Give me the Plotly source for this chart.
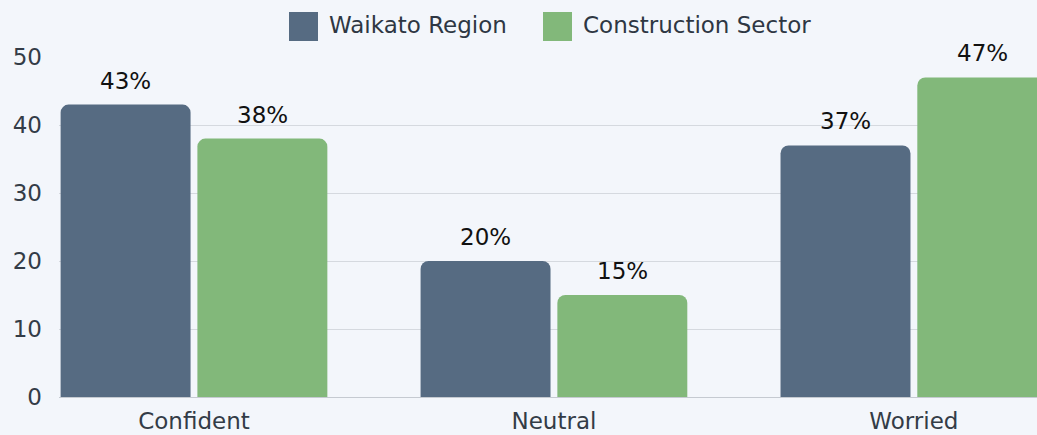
import plotly.graph_objects as go

categories = ["Confident", "Neutral", "Worried"]
series_names = ["Waikato Region", "Construction Sector"]
waikato = [43, 20, 37]
construction = [38, 15, 47]
colors = ["#566b82", "#82b87a"]
y_ticks = [0, 10, 20, 30, 40, 50]

FONT = "DejaVu Sans"
BARGAP = 0.24
fig = go.Figure()
annotations = []
half = (1 - BARGAP) / 4
for k, (name, vals, col) in enumerate(zip(series_names, [waikato, construction], colors)):
    fig.add_trace(go.Bar(
        x=categories, y=vals, name=name, marker=dict(color=col, line=dict(width=0)),
        showlegend=False, hoverinfo="x+y+name",
    ))
    off = -half if k == 0 else half
    for i, v in enumerate(vals):
        annotations.append(dict(xref="x", yref="y", x=i + off, y=v, yanchor="bottom",
                                yshift=9, showarrow=False, text=f"{v}%",
                                font=dict(size=23, color="#111111", family=FONT)))

W, H = 1037, 435
ml, mr, mt, mb = 59, 0, 57, 38
pw, ph = W - ml - mr, H - mt - mb

def px_x(x):
    return (x - ml) / pw

def px_y(y):
    return (H - mb - y) / ph

shapes = []
legend_items = [(289, 327), (543, 581)]
for (sx, tx), name, col in zip(legend_items, series_names, colors):
    shapes.append(dict(type="rect", xref="paper", yref="paper",
                       x0=px_x(sx), x1=px_x(sx + 29), y0=px_y(41), y1=px_y(12),
                       fillcolor=col, line=dict(width=0)))
    annotations.append(dict(xref="paper", yref="paper", x=px_x(tx), y=px_y(25),
                            xanchor="left", yanchor="middle", showarrow=False,
                            text=name, font=dict(size=23, color="#2e3743", family=FONT)))

fig.update_layout(
    width=W, height=H,
    margin=dict(l=ml, r=mr, t=mt, b=mb, autoexpand=False),
    paper_bgcolor="#f3f6fb", plot_bgcolor="#f3f6fb",
    barmode="group", bargap=BARGAP, bargroupgap=0.05, barcornerradius=8,
    shapes=shapes, annotations=annotations,
    xaxis=dict(range=[-0.375, 2.342], showgrid=False, showline=True,
               linecolor="#c5cad1", linewidth=1, ticks="",
               ticklabelstandoff=3,
               tickfont=dict(size=23, color="#333c47", family=FONT)),
    yaxis=dict(range=[0, 50], tickvals=y_ticks, showgrid=True, gridcolor="#d5d9df",
               gridwidth=1, zeroline=False, showline=False, ticks="",
               ticklabelstandoff=16,
               tickfont=dict(size=23, color="#333c47", family=FONT)),
    font=dict(family=FONT),
)

fig.write_html("out.html", config={"displayModeBar": False},
               post_script="document.body.style.margin='0';document.body.style.overflow='hidden';")
